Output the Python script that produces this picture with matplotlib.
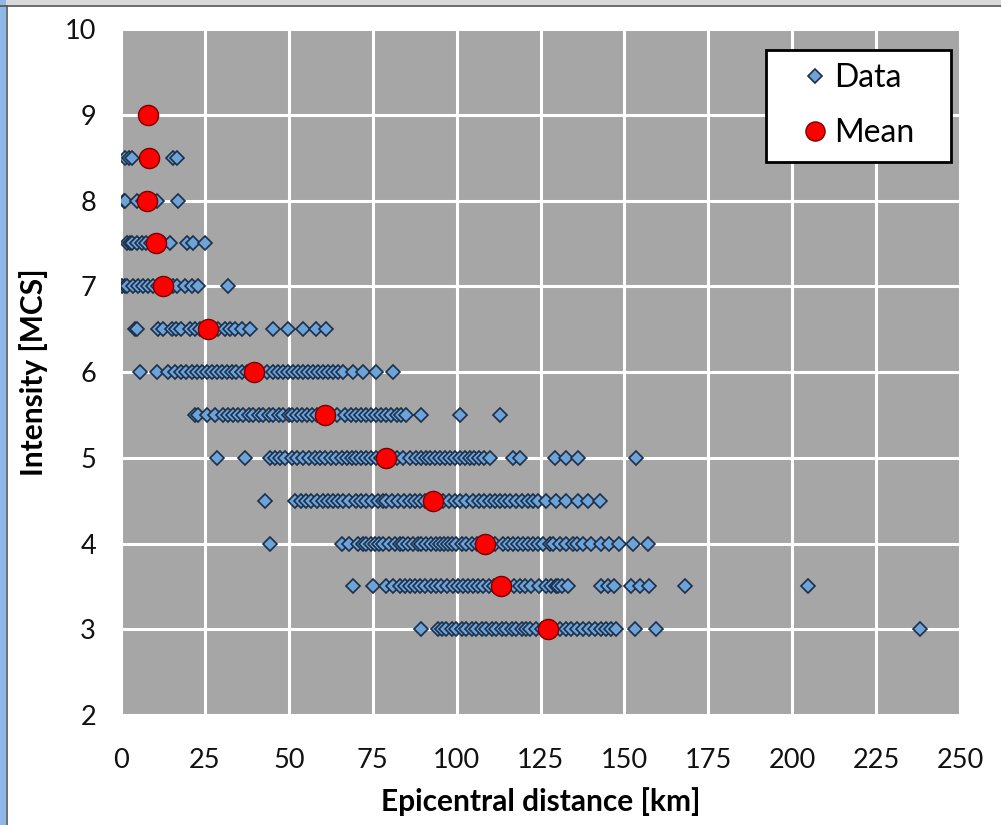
import matplotlib
matplotlib.use("Agg")
import matplotlib.pyplot as plt
from matplotlib.patches import Rectangle

plt.rcParams['font.family'] = ['Lato', 'DejaVu Sans']

# ---- data: epicentral distances [km] for each intensity level ----
intensity_levels = [9.0, 8.5, 8.0, 7.5, 7.0, 6.5, 6.0, 5.5, 5.0, 4.5, 4.0, 3.5, 3.0]

d_9_0 = [8.0]
d_8_5 = [1.2, 2.5, 3.3, 8.3, 15.5, 16.7]
d_8_0 = [0.8, 1.2, 4.8, 6.5, 7.7, 9.5, 10.7, 17.0]
d_7_5 = [1.8, 2.8, 3.3, 4.8, 6.3, 7.5, 9.0, 10.4, 11.5, 12.5, 14.6, 19.6, 21.4, 25.0]
d_7_0 = [0.3, 1.2, 1.8, 3.6, 5.0, 6.5, 8.0, 9.5, 11.0, 12.5, 14.0, 15.5, 16.7,
         19.0, 21.0, 23.0, 32.0]
d_6_5 = [4.2, 4.8, 11.1, 12.6, 15.1, 16.5, 18.0, 20.5, 22.0, 23.5, 26.0, 27.5,
         29.0, 31.0, 32.5, 34.0, 36.0, 38.4, 45.3, 49.8, 54.2, 58.2, 61.0]
d_6_0 = [5.7, 10.6, 14.0, 16.1, 17.8, 19.5, 21.0, 22.5, 24.0, 25.5, 27.0, 28.5,
         30.0, 31.5, 33.0, 34.4, 36.0, 37.5, 39.7, 41.5, 43.5, 45.3, 46.8, 48.3,
         49.8, 51.3, 52.8, 54.3, 55.8, 57.2, 58.7, 60.2, 61.7, 63.2, 64.7, 66.2,
         69.1, 72.1, 76.1, 80.9]
d_5_5 = [22.0, 23.0, 25.5, 28.0, 30.4, 32.0, 33.4, 35.0, 36.4, 38.0, 39.4, 41.0,
         42.3, 44.0, 45.3, 47.0, 48.3, 50.0, 50.8, 52.5, 53.8, 55.5, 57.0, 58.5,
         60.7, 62.5, 64.5, 66.7, 68.5, 70.1, 71.5, 73.1, 74.5, 76.1, 77.5, 79.1,
         80.5, 82.1, 83.5, 85.0, 89.5, 100.9, 112.8]
d_5_0 = [28.5, 36.9, 44.3, 45.8, 47.3, 49.0, 50.8, 52.5, 54.3, 56.0, 57.7, 59.2,
         60.7, 62.5, 64.2, 65.7, 67.2, 68.7, 70.1, 71.6, 73.1, 74.6, 76.1, 77.6,
         79.1, 80.6, 82.1, 84.0, 86.0, 88.0, 89.5, 91.0, 92.0, 93.5, 95.0, 96.5,
         98.0, 99.5, 100.9, 102.4, 103.9, 105.3, 106.8, 108.3, 109.8, 116.7, 118.8,
         129.2, 132.6, 136.1, 153.5]
d_4_5 = [42.9, 51.8, 53.5, 55.0, 56.7, 58.5, 60.2, 61.7, 63.2, 64.7, 66.2, 68.0,
         70.1, 71.6, 73.1, 74.8, 76.6, 78.0, 79.1, 80.8, 82.5, 84.2, 86.0, 87.5,
         89.0, 90.5, 92.9, 94.5, 96.0, 97.7, 99.4, 101.0, 102.9, 104.8, 106.8,
         108.3, 109.8, 111.3, 112.8, 114.5, 116.0, 117.7, 119.5, 121.2, 122.7,
         124.2, 126.7, 129.6, 132.6, 136.1, 139.0, 142.6]
d_4_0 = [44.3, 65.7, 68.0, 70.6, 72.0, 73.1, 74.5, 75.6, 77.0, 78.1, 79.8, 81.5,
         83.0, 84.0, 85.5, 87.0, 88.5, 89.5, 91.0, 92.5, 94.0, 94.9, 96.2, 97.4,
         98.7, 99.9, 101.5, 102.9, 104.5, 106.0, 107.5, 108.5, 110.0, 111.5, 113.8,
         115.3, 116.8, 118.2, 119.7, 121.2, 122.7, 124.2, 125.7, 127.7, 128.7,
         130.7, 132.5, 134.6, 136.0, 137.6, 140.1, 143.1, 145.5, 148.5, 152.5, 156.9]
d_3_5 = [69.1, 75.1, 79.1, 81.0, 83.0, 84.5, 86.0, 87.5, 89.0, 90.5, 92.5, 94.0,
         95.4, 97.0, 98.9, 100.5, 101.9, 103.5, 104.9, 106.5, 107.8, 109.5, 111.0,
         113.1, 115.0, 117.0, 118.8, 120.5, 122.2, 124.5, 126.7, 128.0, 129.7,
         130.1, 131.5, 133.1, 143.1, 145.0, 147.0, 152.0, 154.5, 157.4, 167.9, 204.6]
d_3_0 = [89.5, 94.4, 95.5, 96.9, 98.5, 99.9, 101.5, 102.9, 104.5, 105.9, 107.5,
         108.8, 110.5, 111.8, 113.5, 114.8, 116.5, 117.8, 119.5, 120.7, 122.0,
         123.7, 125.5, 127.2, 129.0, 130.7, 132.5, 134.1, 136.0, 137.6, 139.5,
         141.1, 143.0, 144.6, 146.0, 147.5, 153.0, 159.4, 238.0]

distances_by_level = [d_9_0, d_8_5, d_8_0, d_7_5, d_7_0, d_6_5, d_6_0, d_5_5,
                      d_5_0, d_4_5, d_4_0, d_3_5, d_3_0]

mean_intensity = [9.0, 8.5, 8.0, 7.5, 7.0, 6.5, 6.0, 5.5, 5.0, 4.5, 4.0, 3.5, 3.0]
mean_distance = [8.0, 8.3, 7.7, 10.4, 12.5, 25.9, 39.7, 60.7, 79.1, 92.9, 108.5,
                 113.1, 127.2]

x_ticks = [0, 25, 50, 75, 100, 125, 150, 175, 200, 225, 250]
y_ticks = [2, 3, 4, 5, 6, 7, 8, 9, 10]

# ---- figure ----
fig = plt.figure(figsize=(10.01, 8.25), dpi=100)
fig.patch.set_facecolor('white')

# window frame decorations
fig.patches.append(Rectangle((0, 0.993), 1, 0.007, transform=fig.transFigure,
                             facecolor='#d9d9d9', edgecolor='none', zorder=0))
fig.patches.append(Rectangle((0, 0), 0.006, 1, transform=fig.transFigure,
                             facecolor='#8fb8e6', edgecolor='none', zorder=0))
fig.add_artist(plt.Line2D([0, 1], [0.993, 0.993], transform=fig.transFigure,
                          color='#555555', lw=1.2))
fig.add_artist(plt.Line2D([0.007, 0.007], [0, 0.993], transform=fig.transFigure,
                          color='#555555', lw=1.2))

ax = fig.add_axes([0.1209, 0.1333, 0.8382, 0.8315])
ax.set_facecolor('#a6a6a6')

xs, ys = [], []
for lvl, dl in zip(intensity_levels, distances_by_level):
    xs.extend(dl)
    ys.extend([lvl] * len(dl))

ax.plot(xs, ys, linestyle='none', marker='D', markersize=7.2,
        markerfacecolor='#6ea3d8', markeredgecolor='#1a2f4a',
        markeredgewidth=1.2, label='Data', zorder=3)
ax.plot(mean_distance, mean_intensity, linestyle='none', marker='o',
        markersize=14.5, markerfacecolor='#ff0000', markeredgecolor='#7a0000',
        markeredgewidth=1.0, label='Mean', zorder=4)

ax.set_xlim(0, 250)
ax.set_ylim(2, 10)
ax.set_xticks(x_ticks)
ax.set_yticks(y_ticks)
ax.grid(True, color='white', linewidth=2.2)
ax.set_axisbelow(True)
for s in ax.spines.values():
    s.set_visible(False)
ax.tick_params(axis='both', length=0, labelsize=19.5, colors='#111111')
ax.tick_params(axis='x', pad=24)
ax.tick_params(axis='y', pad=18)

ax.set_xlabel('Epicentral distance [km]', fontsize=21.5, fontweight='bold',
              labelpad=10)
ax.set_ylabel('Intensity [MCS]', fontsize=21.5, fontweight='bold', labelpad=12)

leg = ax.legend(loc='upper left', bbox_to_anchor=(0.769, 0.5, 0.2205, 0.4694),
                mode='expand', fontsize=23,
                frameon=True, fancybox=False, framealpha=1, edgecolor='black',
                handletextpad=-0.47, borderpad=0.42, labelspacing=0.78,
                handlelength=2.19, markerscale=0.95, borderaxespad=0)
leg.get_frame().set_linewidth(2.0)

fig.savefig('out.png', dpi=100)
